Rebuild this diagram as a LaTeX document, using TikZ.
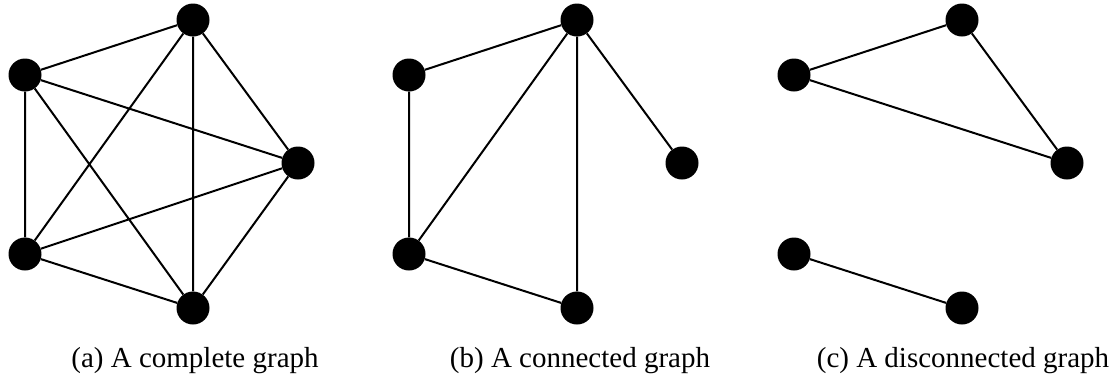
\documentclass[tikz,border=0pt]{standalone}
\usepackage{fontspec}
\setmainfont{Liberation Serif}
\begin{document}
\begin{tikzpicture}[x=1pt,y=-1pt,
  vtx/.style={circle,fill=black,minimum size=33pt,inner sep=0pt},
  link/.style={line width=2pt},
  captxt/.style={font=\fontsize{29}{34}\selectfont,anchor=base,inner sep=0pt}]
\useasboundingbox (0,0) rectangle (1114,381);
\foreach \g/\dx in {a/0,b/384,c/769}{
  \node[vtx] (\g0) at (193+\dx,20) {};
  \node[vtx] (\g1) at (25+\dx,75) {};
  \node[vtx] (\g2) at (298+\dx,163) {};
  \node[vtx] (\g3) at (25+\dx,254) {};
  \node[vtx] (\g4) at (193+\dx,308) {};
}
% (a) complete
\draw[link] (a0)--(a1) (a0)--(a2) (a0)--(a3) (a0)--(a4)
  (a1)--(a2) (a1)--(a3) (a1)--(a4) (a2)--(a3) (a2)--(a4) (a3)--(a4);
% (b) connected
\draw[link] (b0)--(b1) (b1)--(b3) (b3)--(b0) (b0)--(b4) (b0)--(b2) (b3)--(b4);
% (c) disconnected
\draw[link] (c0)--(c1) (c0)--(c2) (c1)--(c2) (c3)--(c4);
\node[captxt] (capa) at (195,367) {(a) A complete graph};
\node[captxt] (capb) at (580,367) {(b) A connected graph};
\node[captxt] (capc) at (963,367) {(c) A disconnected graph};
\end{tikzpicture}
\end{document}
